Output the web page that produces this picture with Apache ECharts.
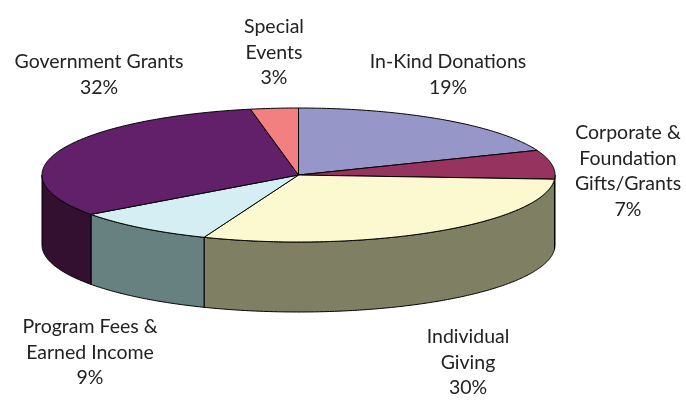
<!DOCTYPE html>
<html><head><meta charset="utf-8">
<script src="https://cdn.jsdelivr.net/npm/echarts@6/dist/echarts.min.js"></script>
<style>html,body{margin:0;padding:0;background:#fff}#c{width:686px;height:400px}</style>
</head><body><div id="c"></div>
<script>
// ---- data ----
const categories = ['In-Kind Donations', 'Corporate &\nFoundation\nGifts/Grants', 'Individual\nGiving', 'Program Fees &\nEarned Income', 'Government Grants', 'Special\nEvents'];
const values = [19, 7, 30, 9, 32, 3];
// ---- styles / layout ----
const topColors = ['#9696C8', '#96335F', '#FCF8D0', '#D4EEF4', '#63206A', '#F28080'];
const sideColors = ['#4B4B64', '#4B1930', '#7F7F63', '#678080', '#330F30', '#794040'];
const labelPos = [[448, 49], [628, 120], [468, 324], [90, 314], [99, 49], [274, 14]];
const CX = 298.5, CY = 175, RX = 256.5, RY = 67, DEPTH = 70;

const total = values.reduce((a, b) => a + b, 0);
function pt(t, dz) { return [CX + RX * Math.sin(t), CY - RY * Math.cos(t) + dz]; }
function arc(a, b, dz) {
  const pts = []; const n = Math.max(2, Math.ceil(Math.abs(b - a) / 0.01));
  for (let k = 0; k <= n; k++) pts.push(pt(a + (b - a) * k / n, dz));
  return pts;
}
function renderItem(params, api) {
  const i = params.dataIndex;
  let start = 0; for (let k = 0; k < i; k++) start += values[k];
  const t1 = start / total * 2 * Math.PI;
  const t2 = (start + api.value(0)) / total * 2 * Math.PI;
  const children = [];
  const a = Math.max(t1, Math.PI / 2), b = Math.min(t2, 3 * Math.PI / 2);
  if (b > a) {
    const poly = arc(a, b, 0).concat(arc(b, a, DEPTH));
    children.push({ type: 'polygon', z2: 1, shape: { points: poly },
      style: { fill: sideColors[i], stroke: '#000', lineWidth: 1, lineJoin: 'round' } });
  }
  const topPoly = [[CX, CY]].concat(arc(t1, t2, 0));
  children.push({ type: 'polygon', z2: 10, shape: { points: topPoly },
    style: { fill: topColors[i], stroke: '#000', lineWidth: 1, lineJoin: 'round' } });
  return { type: 'group', children };
}
const labels = categories.map((c, i) => ({
  type: 'text', x: labelPos[i][0], y: labelPos[i][1], silent: true,
  style: { text: c + '\n' + values[i] + '%', fill: '#222', font: '19.5px Lato',
    align: 'center', verticalAlign: 'top', lineHeight: 25.5 }
}));
const chart = echarts.init(document.getElementById('c'));
chart.setOption({
  animation: false,
  backgroundColor: '#fff',
  series: [{ type: 'custom', coordinateSystem: 'none', silent: true, renderItem, data: values }],
  graphic: labels
});
</script></body></html>
